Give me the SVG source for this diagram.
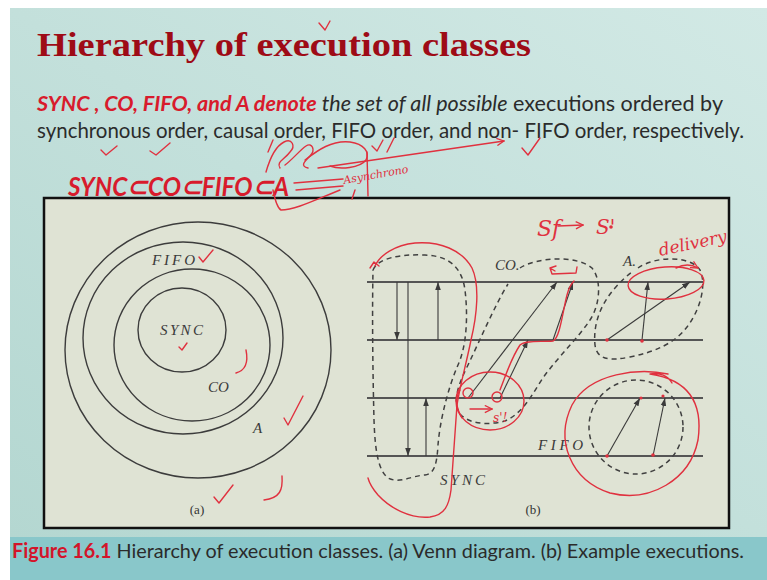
<svg xmlns="http://www.w3.org/2000/svg" width="767" height="580" viewBox="0 0 767 580">
  <defs>
    <linearGradient id="slideBg" x1="0" y1="1" x2="1" y2="0">
      <stop offset="0" stop-color="#b4d7d1"/>
      <stop offset="1" stop-color="#d2e9e5"/>
    </linearGradient>
    <marker id="ah" viewBox="0 0 10 10" refX="10" refY="5" markerWidth="8" markerHeight="8" orient="auto" markerUnits="userSpaceOnUse">
      <path d="M0,1.5 L10,5 L0,8.5 Z" fill="#3a3a3a"/>
    </marker>
    <marker id="rh" viewBox="0 0 10 10" refX="9" refY="5" markerWidth="9" markerHeight="9" orient="auto" markerUnits="userSpaceOnUse">
      <path d="M1,1 L9,5 L1,9" fill="none" stroke="#e0313f" stroke-width="1.4"/>
    </marker>
  </defs>
  <style>
    .body { font-family: Lato, "Liberation Sans", sans-serif; fill: #2b2b2b; }
    .red { fill: #d81b2c; font-weight: bold; font-style: italic; }
    .cal { font-family: "Liberation Serif", "DejaVu Serif", serif; font-style: italic; font-size: 15px; fill: #3a3a3a; }
    .sub { font-family: "Liberation Serif", serif; font-size: 13px; fill: #333; }
    .ring { fill: none; stroke: #3c3c3c; stroke-width: 1.4; }
    .proc { stroke: #555; stroke-width: 1.8; }
    .msg { stroke: #3a3a3a; stroke-width: 1.1; fill: none; marker-end: url(#ah); }
    .dash { fill: none; stroke: #404040; stroke-width: 1.5; stroke-dasharray: 5 4; }
    .ink { fill: none; stroke: #e0313f; stroke-width: 1.4; stroke-linecap: round; stroke-linejoin: round; }
    .inktext { font-family: "DejaVu Serif", serif; font-style: italic; fill: #e0313f; }
    .dot { fill: #e0313f; }
  </style>

  <!-- slide background -->
  <rect width="767" height="580" fill="#ffffff"/>
  <rect x="10" y="8" width="757" height="530" fill="url(#slideBg)"/>
  <rect x="10" y="537" width="757" height="43" fill="#89c7ca"/>

  <!-- heading and text -->
  <g id="title">
    <text x="37" y="56" font-family="'Liberation Serif', serif" font-weight="bold" font-size="34" fill="#9e0b16" textLength="494" lengthAdjust="spacingAndGlyphs">Hierarchy of execution classes</text>
  </g>
  <g id="definition">
    <text class="body" x="37" y="111" font-size="21" textLength="686" lengthAdjust="spacingAndGlyphs"><tspan class="red">SYNC , CO, FIFO, and A denote</tspan><tspan font-style="italic"> the set of all possible</tspan> executions ordered by</text>
    <text class="body" x="37" y="138" font-size="21" textLength="707" lengthAdjust="spacingAndGlyphs">synchronous order, causal order, FIFO order, and non- FIFO order, respectively.</text>
  </g>
  <g id="hierarchy">
    <text class="body red" x="68" y="196" font-size="27" textLength="221" lengthAdjust="spacingAndGlyphs">SYNC⊂CO⊂FIFO⊂A</text>
  </g>

  <!-- figure frame -->
  <rect x="44" y="198" width="685" height="330" fill="#dfe3d4" stroke="#111" stroke-width="2.5"/>

  <!-- (a) Venn diagram -->
  <g id="venn-A"><ellipse class="ring" cx="198" cy="350" rx="133" ry="128"/><text class="cal" x="253" y="433">A</text></g>
  <g id="venn-FIFO"><ellipse class="ring" cx="183" cy="338" rx="100" ry="96"/><text class="cal" x="152" y="265" textLength="43">FIFO</text></g>
  <g id="venn-CO"><ellipse class="ring" cx="192" cy="345" rx="78" ry="76"/><text class="cal" x="208" y="392">CO</text></g>
  <g id="venn-SYNC"><ellipse class="ring" cx="182" cy="330" rx="44" ry="42"/><text class="cal" x="160" y="335" textLength="43">SYNC</text></g>
  <text class="sub" x="197" y="514" text-anchor="middle">(a)</text>

  <!-- (b) process lines -->
  <g id="processes">
    <line class="proc" x1="367" y1="282" x2="703" y2="282"/>
    <line class="proc" x1="367" y1="340" x2="703" y2="340"/>
    <line class="proc" x1="367" y1="398" x2="703" y2="398"/>
    <line class="proc" x1="367" y1="456" x2="703" y2="456"/>
  </g>

  <!-- (b) example executions -->
  <g id="exec-SYNC">
    <path class="dash" d="M373,270 C378,258 400,254 425,255 C450,256 462,268 465,290 C468,315 467,345 458,365 C448,388 440,420 438,445 C437,462 435,474 425,475 C410,476 400,484 388,478 C378,470 375,450 374,420 C373,380 372,320 373,270"/>
    <text class="cal" x="440" y="485" textLength="45">SYNC</text>
  </g>
  <g id="exec-CO">
    <path class="dash" d="M520,268 C535,258 575,254 592,268 C602,280 600,305 590,320 C578,338 560,355 545,375 C533,392 525,412 505,421 C490,425 470,425 460,414 C452,402 458,385 468,365 C480,340 495,305 508,284"/>
    <text class="cal" x="495" y="270">CO.</text>
  </g>
  <g id="exec-A">
    <path class="dash" d="M638,268 C655,256 690,255 700,270 C707,285 700,310 687,327 C675,343 655,352 630,357 C610,361 597,360 595,345 C593,325 600,305 615,288 C622,280 628,275 632,272"/>
    <text class="cal" x="623" y="266">A.</text>
  </g>
  <g id="exec-FIFO">
    <ellipse class="dash" cx="636" cy="427" rx="47" ry="47"/>
    <text class="cal" x="538" y="450" textLength="45">FIFO</text>
  </g>
  <text class="sub" x="533" y="514" text-anchor="middle">(b)</text>

  <!-- messages -->
  <g id="connectors">
    <line class="msg" x1="397" y1="282" x2="397" y2="340"/>
    <line class="msg" x1="408" y1="282" x2="408" y2="456"/>
    <line class="msg" x1="438" y1="340" x2="438" y2="282"/>
    <line class="msg" x1="426" y1="456" x2="426" y2="398"/>
    <line class="msg" x1="468" y1="398" x2="557" y2="282"/>
    <line class="msg" x1="500" y1="398" x2="528" y2="340"/>
    <line class="msg" x1="553" y1="340" x2="573" y2="282"/>
    <line class="msg" x1="607" y1="340" x2="690" y2="282"/>
    <line class="msg" x1="642" y1="340" x2="648" y2="282"/>
    <line class="msg" x1="607" y1="456" x2="640" y2="398"/>
    <line class="msg" x1="653" y1="456" x2="665" y2="398"/>
  </g>

  <!-- pen notes -->
  <g id="pen-notes">
    <path class="ink" d="M319,23 L325,30 L330,21"/>
    <path class="ink" d="M101,150 L106,155 L117,146"/>
    <path class="ink" d="M150,151 L156,155 L170,143"/>
    <path class="ink" d="M522,148 L528,155 L540,138"/>
    <path class="ink" d="M268,152 L273,140"/>
    <path class="ink" d="M266,172 C270,158 276,146 284,142 C292,138 296,146 290,152 C284,160 276,162 280,168"/>
    <path class="ink" d="M285,165 C292,160 300,150 306,146 C312,142 316,150 310,156 C304,162 300,166 308,168"/>
    <path class="ink" d="M305,160 C318,150 332,140 350,142 C364,144 370,152 366,160 C360,168 340,170 330,166"/>
    <path class="ink" d="M372,146 L377,151 L383,140"/>
    <path class="ink" d="M387,152 L394,138"/>
    <path class="ink" d="M318,168 L504,141" marker-end="url(#rh)"/>
    <path class="ink" d="M367,152 L368,196"/>
    <path class="ink" d="M294,183 L343,179 M296,190 L343,186"/>
    <path class="ink" d="M273,190 C275,200 277,208 281,210 C295,210 315,200 340,190"/>
    <path class="ink" d="M355,190 L352,199"/>
    <text class="inktext" x="344" y="184" font-size="11" transform="rotate(-10 344 184)">Asynchrono</text>

    <path class="ink" d="M199,257 L203,262 L213,250"/>
    <path class="ink" d="M179,347 L182,350 L187,343"/>
    <path class="ink" d="M246,350 C248,360 247,370 236,373"/>
    <path class="ink" d="M284,418 L288,425 L303,396"/>
    <path class="ink" d="M214,497 L219,503 L233,485"/>
    <path class="ink" d="M282,476 C283,490 280,498 264,500"/>

    <text class="inktext" x="537" y="236" font-size="22">Sf</text>
    <path class="ink" d="M558,226 L583,225" marker-end="url(#rh)"/>
    <text class="inktext" x="596" y="234" font-size="20">S'</text>
    <circle class="dot" cx="611" cy="227" r="1.8"/>
    <text class="inktext" x="660" y="256" font-size="17" transform="rotate(-12 660 256)">delivery</text>

    <path class="ink" d="M370,268 L374,262 L379,266"/>
    <path class="ink" d="M375,266 C380,255 395,245 415,243 C440,241 462,250 472,268 C480,285 477,315 471,340 C466,365 460,385 457,405 C455,430 453,460 451,490 C449,505 445,515 430,517 C410,519 390,508 378,495 C372,488 369,482 368,478"/>
    <ellipse class="ink" cx="490" cy="401" rx="34" ry="29"/>
    <circle class="ink" cx="468" cy="393" r="5"/>
    <circle class="ink" cx="497" cy="397" r="5"/>
    <path class="ink" d="M470,409 L492,409" marker-end="url(#rh)"/>
    <text class="inktext" x="493" y="422" font-size="12">s'!</text>
    <path class="ink" d="M460,390 C455,398 456,408 462,418"/>
    <path class="ink" d="M500,390 C505,378 510,360 520,345 C525,340 540,342 553,341 C560,338 563,310 567,295 C569,287 572,283 574,281"/>
    <path class="ink" d="M577,267 L576,273 L552,274 L550,268 M550,268 L556,266 M550,268 L555,271"/>
    <ellipse class="ink" cx="666" cy="283" rx="38" ry="16" transform="rotate(-4 666 283)"/>
    <path class="ink" d="M676,268 C684,264 691,264 698,268" marker-end="url(#rh)"/>
    <path class="ink" d="M668,374 C640,368 590,372 572,405 C555,440 570,480 610,493 C650,503 690,480 698,440 C703,405 690,380 650,374 C660,372 668,376 672,383"/>
    <circle class="dot" cx="607" cy="340" r="1.8"/>
    <circle class="dot" cx="642" cy="341" r="1.8"/>
    <circle class="dot" cx="607" cy="456" r="1.8"/>
    <circle class="dot" cx="653" cy="455" r="1.8"/>
    <circle class="dot" cx="641" cy="398" r="1.6"/>
    <circle class="dot" cx="663" cy="396" r="1.6"/>
  </g>

  <!-- caption -->
  <g id="caption">
    <text class="body" x="12" y="558" font-size="20" textLength="732" lengthAdjust="spacingAndGlyphs"><tspan font-weight="bold" fill="#d3142a">Figure 16.1</tspan> Hierarchy of execution classes. (a) Venn diagram. (b) Example executions.</text>
  </g>
</svg>
